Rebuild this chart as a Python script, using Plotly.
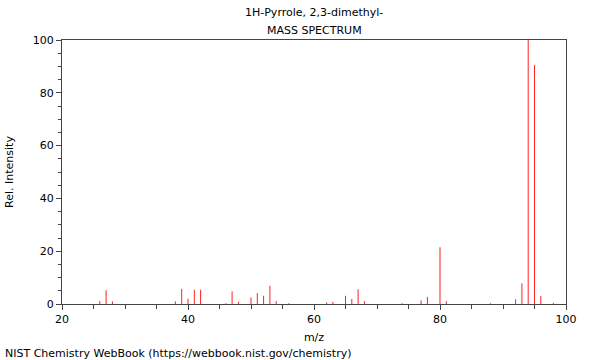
import plotly.graph_objects as go

mz = [26, 27, 28, 38, 39, 40, 41, 42, 46, 47, 48, 50, 51, 52, 53, 54, 56,
      62, 63, 65, 66, 67, 68, 74, 77, 78, 80, 81, 88, 92, 93, 94, 95, 96, 98]
intensity = [1.1, 5.2, 1.0, 1.0, 5.7, 2.0, 5.4, 5.4, 0.3, 4.8, 0.8, 2.5, 4.1, 3.1, 6.9, 1.1, 0.3,
             0.6, 0.8, 3.1, 1.9, 5.6, 1.1, 0.3, 1.4, 2.7, 21.5, 1.1, 0.3, 1.8, 7.8, 100, 90.5, 3.0, 0.4]

title_line1 = "1H-Pyrrole, 2,3-dimethyl-"
title_line2 = "MASS SPECTRUM"
x_label = "m/z"
y_label = "Rel. Intensity"
footer = "NIST Chemistry WebBook (https://webbook.nist.gov/chemistry)"

xs, ys = [], []
for m, v in zip(mz, intensity):
    xs += [m, m, None]
    ys += [0, v, None]

fig = go.Figure()
fig.add_trace(go.Scatter(x=xs, y=ys, mode="lines",
                         line=dict(color="#ff2020", width=1),
                         hoverinfo="skip", showlegend=False))

font = dict(family="DejaVu Sans", size=11, color="black")
axis_common = dict(showgrid=False, zeroline=False, showline=True, linecolor="#444444",
                   linewidth=1, mirror=True, ticks="outside", ticklen=5, tickcolor="#444444",
                   tickfont=font, automargin=False)

L, R, T, B = 62, 34, 40, 56
fig.update_layout(
    width=600, height=360,
    margin=dict(l=L, r=R, t=T, b=B, autoexpand=False),
    plot_bgcolor="white", paper_bgcolor="white",
    font=font,
    xaxis=dict(range=[20, 100], dtick=20, tick0=20,
               minor=dict(dtick=5, ticks="outside", ticklen=4, tickcolor="#444444"),
               title=dict(text=x_label, font=font, standoff=8), **axis_common),
    yaxis=dict(range=[0, 100], dtick=20,
               minor=dict(dtick=5, ticks="outside", ticklen=3, tickcolor="#444444"),
               title=dict(text=y_label, font=font, standoff=16), **axis_common),
)

plot_h = 360 - T - B
plot_w = 600 - L - R
def py(pix):
    return (360 - B - pix) / plot_h
def px(pix):
    return (pix - L) / plot_w

fig.add_annotation(text=title_line1, x=px(314), y=py(13), xref="paper", yref="paper",
                   showarrow=False, font=font, xanchor="center", yanchor="middle")
fig.add_annotation(text=title_line2, x=px(314), y=py(30), xref="paper", yref="paper",
                   showarrow=False, font=font, xanchor="center", yanchor="middle")
fig.add_annotation(text=footer, x=px(3), y=py(353), xref="paper", yref="paper",
                   showarrow=False, font=font, xanchor="left", yanchor="middle")

fig.write_html("out.html", config={"displayModeBar": False},
               post_script="document.body.style.margin='0';")
